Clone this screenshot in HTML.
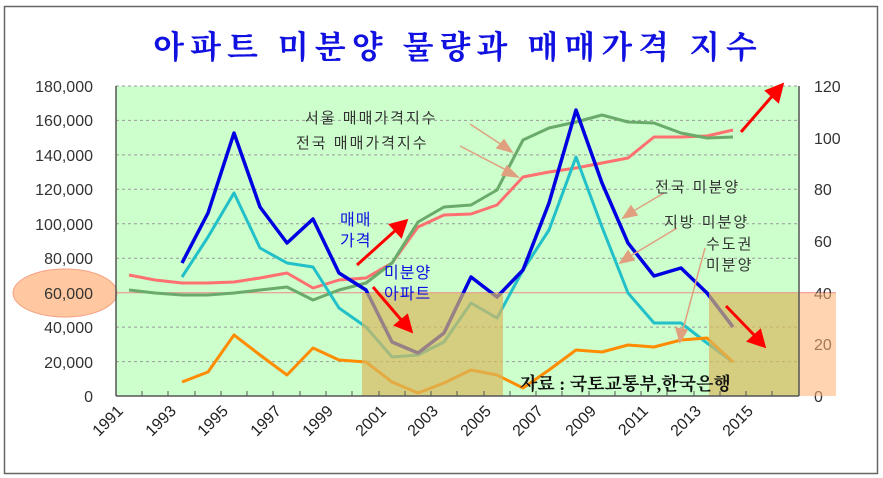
<!DOCTYPE html>
<html><head><meta charset="utf-8"><style>
html,body{margin:0;padding:0;background:#fff;}
svg{display:block;}
text{font-family:"Liberation Sans","Noto Sans CJK KR",sans-serif;}
.k{font-family:"Liberation Serif","Noto Serif CJK SC","Noto Sans CJK KR",serif;}
</style></head><body>
<svg width="883" height="478" viewBox="0 0 883 478" xmlns="http://www.w3.org/2000/svg">
<rect x="4.5" y="6.5" width="873" height="467" fill="#fff" stroke="#666" stroke-width="1.5"/>
<text x="458" y="58" text-anchor="middle" class="k" font-size="32" font-weight="bold" fill="#1010e0" letter-spacing="6">아파트 미분양 물량과 매매가격 지수</text>
<rect x="116" y="86" width="683" height="310" fill="#ccffcc"/>
<g stroke="#999" stroke-dasharray="3,3" stroke-width="1">
<line x1="116" y1="86" x2="799" y2="86"/><line x1="116" y1="120.4" x2="799" y2="120.4"/><line x1="116" y1="154.9" x2="799" y2="154.9"/><line x1="116" y1="189.3" x2="799" y2="189.3"/><line x1="116" y1="223.8" x2="799" y2="223.8"/><line x1="116" y1="258.2" x2="799" y2="258.2"/><line x1="116" y1="327.1" x2="799" y2="327.1"/><line x1="116" y1="361.6" x2="799" y2="361.6"/>
</g>
<line x1="116" y1="292.7" x2="836" y2="292.7" stroke="#e88" stroke-width="1"/>
<ellipse cx="65" cy="293" rx="52" ry="24" fill="#ffc8a0" stroke="#f5a080" stroke-width="1"/>
<g font-size="16" fill="#333" text-anchor="end">
<text x="93" y="92">180,000</text><text x="93" y="126">160,000</text><text x="93" y="161">140,000</text><text x="93" y="195">120,000</text><text x="93" y="230">100,000</text><text x="93" y="264">80,000</text><text x="93" y="299">60,000</text><text x="93" y="333">40,000</text><text x="93" y="368">20,000</text><text x="93" y="402">0</text>
</g>
<g font-size="16" fill="#333">
<text x="814" y="92">120</text><text x="814" y="144">100</text><text x="814" y="195">80</text><text x="814" y="247">60</text><text x="814" y="299">40</text><text x="814" y="350">20</text><text x="814" y="402">0</text>
</g>
<g fill="none" stroke-linejoin="round">
<polyline stroke="#ff7070" stroke-width="3" points="129,275 155,280 182,283 208,283 234,282 260,278 287,273 313,288 339,280 366,278 392,263 418,227 444,215 471,214 497,205 523,177 549,172 576,168 602,163 628,158 654,137 681,137 707,136 733,130"/>
<polyline stroke="#6aaa6a" stroke-width="3" points="129,290 155,293 182,295 208,295 234,293 260,290 287,287 313,300 339,290 366,283 392,263 418,222 444,207 471,205 497,190 523,140 549,128 576,122 602,115 628,122 654,123 681,133 707,138 733,137"/>
<polyline stroke="#22c0c8" stroke-width="3" points="182,277 208,237 234,193 260,248 287,263 313,267 339,308 366,327 392,357 418,355 444,342 471,303 497,318 523,270 549,230 576,157 602,227 628,293 654,323 681,323 707,343 733,362"/>
<polyline stroke="#ff8c00" stroke-width="3" points="182,382 208,372 234,335 260,355 287,375 313,348 339,360 366,362 392,382 418,393 444,383 471,370 497,375 523,388 549,370 576,350 602,352 628,345 654,347 681,340 707,338 733,362"/>
<polyline stroke="#0000e0" stroke-width="3.5" points="182,263 208,213 234,133 260,207 287,243 313,219 339,273 366,290 392,342 418,353 444,333 471,277 497,297 523,270 549,203 576,110 602,183 628,243 654,276 681,268 707,293 733,327"/>
</g>
<rect x="362" y="293" width="141" height="103" fill="#d8b860" fill-opacity="0.7"/>
<rect x="709" y="293" width="90" height="103" fill="#d8b860" fill-opacity="0.7"/>
<rect x="799" y="293" width="37" height="103" fill="#ffb070" fill-opacity="0.55"/>
<line x1="116" y1="86" x2="116" y2="396" stroke="#555" stroke-width="1.5"/>
<line x1="799" y1="86" x2="799" y2="396" stroke="#555" stroke-width="1.5"/>
<line x1="116" y1="396" x2="799" y2="396" stroke="#555" stroke-width="1.5"/>
<g stroke="#555" stroke-width="1">
<path d="M142 396v-5M168 396v-5M195 396v-5M221 396v-5M247 396v-5M273 396v-5M300 396v-5M326 396v-5M352 396v-5M379 396v-5M405 396v-5M431 396v-5M457 396v-5M484 396v-5M510 396v-5M536 396v-5M562 396v-5M589 396v-5M615 396v-5M641 396v-5M667 396v-5M694 396v-5M720 396v-5M746 396v-5M772 396v-5"/>
</g>
<g font-size="16" fill="#222" text-anchor="end">
<text transform="translate(124,412) rotate(-45)">1991</text>
<text transform="translate(177,412) rotate(-45)">1993</text>
<text transform="translate(229,412) rotate(-45)">1995</text>
<text transform="translate(282,412) rotate(-45)">1997</text>
<text transform="translate(334,412) rotate(-45)">1999</text>
<text transform="translate(387,412) rotate(-45)">2001</text>
<text transform="translate(439,412) rotate(-45)">2003</text>
<text transform="translate(492,412) rotate(-45)">2005</text>
<text transform="translate(544,412) rotate(-45)">2007</text>
<text transform="translate(597,412) rotate(-45)">2009</text>
<text transform="translate(649,412) rotate(-45)">2011</text>
<text transform="translate(702,412) rotate(-45)">2013</text>
<text transform="translate(754,412) rotate(-45)">2015</text>
</g>
<g stroke="#e0a080" stroke-width="1.5" fill="#e0a080">
<line x1="470" y1="124" x2="505" y2="147"/><polygon points="512,152 497,148 504,140"/>
<line x1="460" y1="146" x2="510" y2="172"/><polygon points="518,177 502,175 507,166"/>
<line x1="664" y1="193" x2="630" y2="213"/><polygon points="623,218 631,206 637,215"/>
<line x1="677" y1="228" x2="627" y2="258"/><polygon points="620,263 628,251 634,260"/>
<line x1="705" y1="248" x2="682" y2="333"/><polygon points="680,342 676,328 687,330"/>
</g>
<g class="k" font-size="15" fill="#333" letter-spacing="2">
<text x="305" y="123">서울 매매가격지수</text>
<text x="296" y="148">전국 매매가격지수</text>
<text x="655" y="192">전국 미분양</text>
<text x="664" y="227">지방 미분양</text>
<text x="706" y="249">수도권</text>
<text x="706" y="270">미분양</text>
</g>
<g class="k" font-size="16" fill="#1010e0" letter-spacing="1">
<text x="340" y="225">매매</text><text x="340" y="246">가격</text>
<text x="384" y="278">미분양</text><text x="384" y="299">아파트</text>
</g>
<text x="520" y="390" class="k" font-size="18" font-weight="bold" fill="#111">자료 : 국토교통부,한국은행</text>
<g stroke="#ff0000" stroke-width="3" fill="#ff0000">
<line x1="357" y1="265" x2="397" y2="229"/><polygon points="406,221 401,236 391,225"/>
<line x1="373" y1="287" x2="403" y2="322"/><polygon points="411,331 396,325 407,316"/>
<line x1="741" y1="132" x2="774" y2="94"/><polygon points="782,85 778,101 767,91"/>
<line x1="726" y1="306" x2="756" y2="337"/><polygon points="764,346 749,341 760,331"/>
</g>
</svg>
</body></html>
